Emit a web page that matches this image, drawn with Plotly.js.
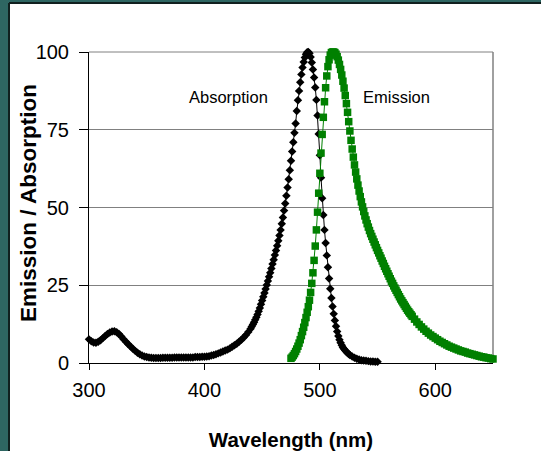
<!DOCTYPE html>
<html>
<head>
<meta charset="utf-8">
<script src="https://cdn.plot.ly/plotly-3.0.1.min.js"></script>
<style>html,body{margin:0;padding:0;background:#ffffff;overflow:hidden;}#chart{width:541px;height:451px;}</style>
</head>
<body>
<div id="chart"></div>
<script>
// Absorption spectrum (black diamonds)
const absWavelength = [300,302,304,306,308,310,312,314,316,318,320,322,324,326,328,330,332,334,336,338,340,342,344,346,348,350,352,354,356,358,360,362,364,366,368,370,372,374,376,378,380,382,384,386,388,390,392,394,396,398,400,402,404,406,408,410,412,414,416,418,420,422,424,426,428,430,432,434,436,438,440,441,442,443,444,445,446,447,448,449,450,451,452,453,454,455,456,457,458,459,460,461,462,463,464,465,466,467,468,469,470,471,472,473,474,475,476,477,478,479,480,481,482,483,484,485,486,487,488,489,490,491,492,493,494,495,496,497,498,499,500,501,502,503,504,505,506,507,508,509,510,511,512,513,514,515,516,517,518,519,520,521,522,523,524,525,526,528,530,532,534,536,538,540,542,544,546,548,550];
const absValues = [7.6,7.0,6.6,6.5,6.8,7.3,8.0,8.7,9.3,9.8,10.1,10.2,9.9,9.3,8.5,7.6,6.8,6.0,5.3,4.6,3.9,3.3,2.8,2.4,2.1,1.9,1.8,1.7,1.6,1.6,1.6,1.6,1.7,1.7,1.7,1.7,1.7,1.8,1.8,1.8,1.8,1.8,1.8,1.8,1.8,1.8,1.9,1.9,1.9,2.0,2.0,2.1,2.2,2.4,2.6,2.8,3.1,3.4,3.7,4.0,4.3,4.7,5.2,5.7,6.2,6.8,7.5,8.2,9.0,10.0,11.0,11.7,12.4,13.1,13.9,14.7,15.6,16.6,17.7,18.9,20.1,21.3,22.5,23.8,25.1,26.4,27.7,29.0,30.4,31.8,33.2,34.7,36.2,37.7,39.3,41.0,42.8,44.8,46.8,49.0,51.3,53.8,56.4,59.1,62.0,65.0,68.0,71.0,74.0,77.0,81.0,84.5,87.5,90.3,92.8,95.0,96.8,98.2,99.3,99.9,100,99.6,98.4,96.6,94.4,91.8,88.6,84.6,79.6,73.6,66.8,59.6,53.0,47.6,42.8,38.6,34.6,30.8,27.2,23.9,20.9,18.2,15.8,13.7,11.8,10.1,8.7,7.5,6.5,5.7,5.0,4.5,4.0,3.6,3.2,2.9,2.6,2.1,1.7,1.4,1.1,0.9,0.8,0.7,0.6,0.5,0.5,0.4,0.4];

// Emission spectrum (green squares)
const emWavelength = [475,476,477,478,479,480,481,482,483,484,485,486,487,488,489,490,491,492,493,494,495,496,497,498,499,500,501,502,503,504,505,506,507,508,509,510,511,512,513,514,515,516,517,518,519,520,521,522,523,524,525,526,527,528,529,530,531,532,533,534,535,536,537,538,539,540,541,542,543,544,545,546,547,548,549,550,551,552,553,554,555,556,557,558,559,560,561,562,563,564,565,566,567,568,569,570,571,572,573,574,575,576,577,578,579,580,582,584,586,588,590,592,594,596,598,600,602,604,606,608,610,612,614,616,618,620,622,624,626,628,630,632,634,636,638,640,642,644,646,648,650];
const emValues = [1.5,1.9,2.4,3.0,3.7,4.5,5.4,6.4,7.5,8.8,10.1,11.5,13.0,14.6,16.3,18.1,20.2,22.7,25.6,29.0,33.0,37.6,42.8,48.5,54.6,61.0,67.5,73.5,79.0,84.0,88.5,92.3,95.3,97.5,99.0,99.8,100,100,99.8,99.3,98.5,97.4,96.0,94.4,92.6,90.6,88.4,86.0,83.4,80.6,77.6,74.6,71.6,68.8,66.2,63.7,61.4,59.2,57.2,55.3,53.5,51.8,50.2,48.7,47.3,46.0,44.8,43.7,42.6,41.6,40.7,39.8,38.9,38.0,37.1,36.2,35.4,34.5,33.7,32.8,32.0,31.1,30.3,29.5,28.7,27.9,27.1,26.3,25.6,24.8,24.1,23.4,22.7,22.0,21.3,20.6,20.0,19.4,18.8,18.2,17.6,17.0,16.5,16.0,15.5,15.0,14.1,13.2,12.4,11.6,10.9,10.2,9.6,9.0,8.5,8.0,7.5,7.0,6.6,6.2,5.8,5.4,5.1,4.8,4.5,4.2,3.9,3.7,3.5,3.2,3.0,2.8,2.6,2.4,2.2,2.0,1.9,1.7,1.6,1.4,1.3];

const xTicks = [300, 400, 500, 600];
const yTicks = [0, 25, 50, 75, 100];
const xTitle = 'Wavelength (nm)';
const yTitle = 'Emission / Absorption';
const labelAbs = 'Absorption';
const labelEm = 'Emission';

const FONT = 'Liberation Sans, Arial, sans-serif';
const TEAL = '#2e6662';
const FRAME = '#10201f';

const traces = [
  {
    x: absWavelength, y: absValues, type: 'scatter', mode: 'lines+markers',
    line: {color: '#000000', width: 1},
    marker: {symbol: 'diamond', size: 6.5, color: '#000000'},
    cliponaxis: false, hoverinfo: 'skip'
  },
  {
    x: emWavelength, y: emValues, type: 'scatter', mode: 'lines+markers',
    line: {color: '#008000', width: 1},
    marker: {symbol: 'square', size: 7.5, color: '#008000'},
    cliponaxis: false, hoverinfo: 'skip'
  }
];

// pixel -> paper helpers for the outer frame (plot area: x 89..493, y 52..363)
const px = v => (v - 89) / 404;
const py = v => (363 - v) / 311;

const layout = {
  width: 541, height: 451,
  margin: {l: 89, r: 48, t: 52, b: 88, pad: 0},
  paper_bgcolor: '#ffffff',
  plot_bgcolor: '#ffffff',
  showlegend: false,
  font: {family: FONT, color: '#000000'},
  xaxis: {
    range: [300, 650], tickvals: xTicks, ticktext: xTicks.map(String),
    showline: true, linecolor: '#000000', linewidth: 1,
    ticks: 'outside', ticklen: 6, tickcolor: '#000000', tickwidth: 1,
    ticklabelstandoff: 3,
    showgrid: false, zeroline: false,
    tickfont: {family: FONT, size: 20, color: '#000000'},
    title: {text: xTitle, font: {family: FONT, size: 20.5, weight: 'bold', color: '#000000'}, standoff: 32}
  },
  yaxis: {
    range: [0, 100], tickvals: yTicks, ticktext: yTicks.map(String),
    showline: true, linecolor: '#000000', linewidth: 1,
    ticks: 'outside', ticklen: 9, tickcolor: '#000000', tickwidth: 1,
    ticklabelstandoff: 6,
    showgrid: true, gridcolor: '#808080', gridwidth: 1, zeroline: false,
    tickfont: {family: FONT, size: 20, color: '#000000'}
  },
  shapes: [
    {type: 'rect', xref: 'paper', yref: 'paper', layer: 'below',
     x0: px(0), x1: px(9), y0: py(451), y1: py(0), fillcolor: TEAL, line: {width: 0}},
    {type: 'rect', xref: 'paper', yref: 'paper', layer: 'below',
     x0: px(0), x1: px(541), y0: py(3), y1: py(0), fillcolor: TEAL, line: {width: 0}},
    {type: 'line', xref: 'paper', yref: 'paper', layer: 'below',
     x0: px(9), x1: px(9), y0: py(451), y1: py(3), line: {color: FRAME, width: 2}},
    {type: 'line', xref: 'paper', yref: 'paper', layer: 'below',
     x0: px(9), x1: px(541), y0: py(3), y1: py(3), line: {color: FRAME, width: 2}},
    {type: 'line', xref: 'paper', yref: 'paper', layer: 'below',
     x0: 0, x1: 1, y0: 1, y1: 1, line: {color: '#808080', width: 1}},
    {type: 'line', xref: 'paper', yref: 'paper', layer: 'below',
     x0: 1, x1: 1, y0: 0, y1: 1, line: {color: '#808080', width: 1.5}}
  ],
  annotations: [
    {x: 421, y: 85.5, xref: 'x', yref: 'y', text: labelAbs, showarrow: false,
     font: {family: FONT, size: 16.5, color: '#000000'}},
    {x: 566, y: 85.5, xref: 'x', yref: 'y', text: labelEm, showarrow: false,
     font: {family: FONT, size: 16.5, color: '#000000'}},
    {x: px(28), y: py(203), xref: 'paper', yref: 'paper', text: yTitle, showarrow: false,
     textangle: -90, xanchor: 'center', yanchor: 'middle',
     font: {family: FONT, size: 22.5, weight: 'bold', color: '#000000'}}
  ]
};

Plotly.newPlot('chart', traces, layout, {displayModeBar: false, staticPlot: true});
</script>
</body>
</html>
